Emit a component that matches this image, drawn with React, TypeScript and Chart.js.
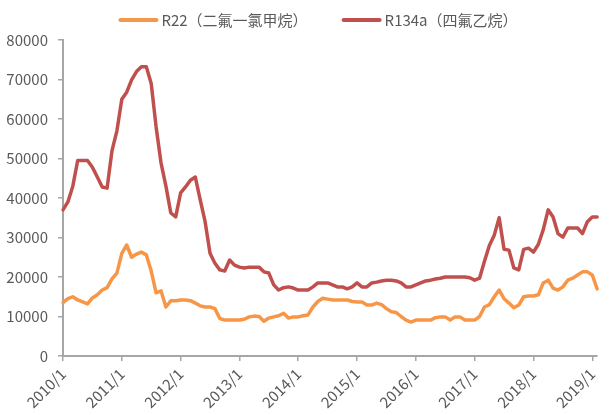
import { useEffect, useRef } from "react";
import { Chart, registerables } from "chart.js";

Chart.register(...registerables);

// Monthly series, 2010/1 .. 2019/2
const r22: number[] = [
  13500, 14500, 15000, 14200, 13700, 13200, 14700, 15500, 16700, 17300, 19500, 21000,
  26000, 28100, 25000, 25800, 26300, 25600, 21500, 16000, 16500, 12400, 14000, 14000,
  14200, 14200, 14000, 13400, 12700, 12400, 12400, 12000, 9500, 9100, 9100, 9100,
  9100, 9300, 9900, 10100, 10000, 8800, 9600, 9900, 10200, 10800, 9600, 9900,
  9900, 10200, 10400, 12400, 13800, 14600, 14400, 14200, 14200, 14200, 14200, 13800,
  13700, 13700, 12900, 12900, 13400, 13000, 12000, 11200, 11000, 10000, 9100, 8600,
  9100, 9100, 9100, 9100, 9700, 9900, 9900, 9100, 9900, 9900, 9100, 9100,
  9100, 10000, 12400, 13000, 15000, 16700, 14500, 13400, 12200, 12900, 15000, 15200,
  15200, 15500, 18500, 19200, 17200, 16700, 17500, 19200, 19700, 20500, 21300, 21300,
  20500, 17000,
];

const r134a: number[] = [
  37000, 39000, 43000, 49500, 49500, 49500, 47800, 45300, 42800, 42500, 52000, 57000,
  65000, 66800, 69900, 72000, 73200, 73200, 69000, 58000, 48900, 43000, 36200, 35200,
  41300, 42800, 44500, 45300, 39500, 34000, 26000, 23500, 21800, 21500, 24300, 23000,
  22500, 22300, 22500, 22500, 22500, 21300, 21000, 18000, 16700, 17300, 17500, 17200,
  16700, 16700, 16700, 17500, 18500, 18500, 18500, 18000, 17500, 17500, 17000, 17500,
  18500, 17500, 17500, 18500, 18700, 19000, 19200, 19200, 19000, 18500, 17500, 17500,
  18000, 18500, 19000, 19200, 19500, 19700, 20000, 20000, 20000, 20000, 20000, 19800,
  19200, 19700, 24000, 28000, 30600, 35000, 27000, 26800, 22300, 21800, 27000, 27300,
  26300, 28300, 32000, 37000, 35200, 31000, 30100, 32400, 32400, 32400, 31000, 34000,
  35200, 35200,
];

const START_YEAR = 2010;
const months: string[] = r22.map((_, i) => `${START_YEAR + Math.floor(i / 12)}/${(i % 12) + 1}`);

const seriesNames = ["R22（二氟一氯甲烷）", "R134a（四氟乙烷）"];
const seriesColors = ["#F79646", "#C0504D"];

const yTicks = { min: 0, max: 80000, step: 10000 };

const FONT = '"Noto Sans CJK SC", "Noto Sans", sans-serif';
const TEXT_COLOR = "#595959";
const AXIS_COLOR = "#A6A6A6";

const legendPlugin = {
  id: "customLegend",
  afterDraw(chart: any) {
    const ctx = chart.ctx as CanvasRenderingContext2D;
    ctx.save();
    ctx.font = `15px ${FONT}`;
    const sw = 40;
    const gap = 3;
    const itemGap = 34;
    const items = chart.data.datasets.map((ds: any) => ({ text: ds.label, color: ds.borderColor }));
    const widths = items.map((it: any) => sw + gap + ctx.measureText(it.text).width);
    const total = widths.reduce((a: number, b: number) => a + b, 0) + itemGap * (items.length - 1);
    let x = 318 - total / 2;
    const y = 20;
    items.forEach((it: any, i: number) => {
      ctx.strokeStyle = it.color;
      ctx.lineWidth = 4;
      ctx.lineCap = "round";
      ctx.beginPath();
      ctx.moveTo(x + 2, y);
      ctx.lineTo(x + sw - 2, y);
      ctx.stroke();
      ctx.fillStyle = TEXT_COLOR;
      ctx.textBaseline = "middle";
      ctx.textAlign = "left";
      ctx.fillText(it.text, x + sw + gap, y);
      x += widths[i] + itemGap;
    });
    ctx.restore();
  },
};

export default function App() {
  const canvasRef = useRef<HTMLCanvasElement | null>(null);

  useEffect(() => {
    if (!canvasRef.current) return;
    const chart = new Chart(canvasRef.current, {
      type: "line",
      data: {
        labels: months,
        datasets: [
          {
            label: seriesNames[0],
            data: r22,
            borderColor: seriesColors[0],
            backgroundColor: seriesColors[0],
            borderWidth: 3.5,
            pointRadius: 0,
            tension: 0,
            borderJoinStyle: "round",
            borderCapStyle: "round",
          },
          {
            label: seriesNames[1],
            data: r134a,
            borderColor: seriesColors[1],
            backgroundColor: seriesColors[1],
            borderWidth: 3.5,
            pointRadius: 0,
            tension: 0,
            borderJoinStyle: "round",
            borderCapStyle: "round",
          },
        ],
      },
      options: {
        responsive: false,
        animation: false,
        layout: { padding: { top: 40, left: 0, right: 0, bottom: 0 } },
        plugins: {
          legend: { display: false },
          tooltip: { enabled: false },
        },
        scales: {
          x: {
            type: "category",
            grid: {
              display: true,
              drawOnChartArea: false,
              drawTicks: true,
              tickLength: 5,
              color: AXIS_COLOR,
              lineWidth: 1.5,
            },
            border: { display: true, color: AXIS_COLOR, width: 2 },
            ticks: {
              autoSkip: false,
              maxRotation: 45,
              minRotation: 45,
              padding: 4,
              color: TEXT_COLOR,
              font: { family: FONT, size: 15 },
              callback: (_v: any, i: number) => (months[i].split("/")[1] === "1" ? months[i] : null),
            },
            afterFit: (scale: any) => {
              scale.height = 59;
            },
          },
          y: {
            min: yTicks.min,
            max: yTicks.max,
            grid: {
              display: true,
              drawOnChartArea: false,
              drawTicks: true,
              tickLength: 5,
              color: AXIS_COLOR,
              lineWidth: 1.5,
            },
            border: { display: true, color: AXIS_COLOR, width: 2 },
            ticks: {
              stepSize: yTicks.step,
              padding: 10,
              color: TEXT_COLOR,
              font: { family: FONT, size: 15 },
              callback: (v: any) => String(v),
            },
            afterFit: (scale: any) => {
              scale.width = 63;
            },
          },
        },
      },
      plugins: [legendPlugin],
    });
    return () => chart.destroy();
  }, []);

  return (
    <div style={{ position: "absolute", left: 0, top: 0, width: 609, height: 415, background: "#fff" }}>
      <canvas ref={canvasRef} width={609} height={415} />
    </div>
  );
}
